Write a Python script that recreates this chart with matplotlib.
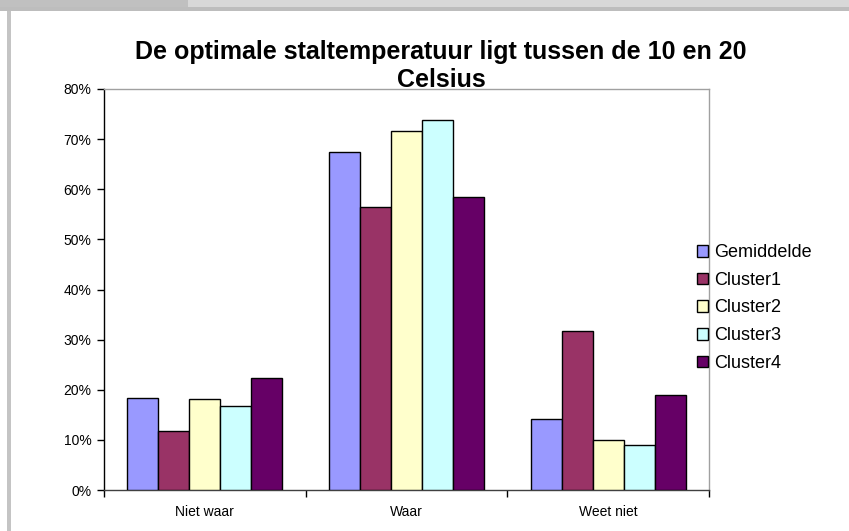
import numpy as np
import matplotlib
matplotlib.use('Agg')
import matplotlib.pyplot as plt
from matplotlib.patches import Rectangle
from matplotlib.ticker import PercentFormatter, FixedLocator

categories = ['Niet waar', 'Waar', 'Weet niet']
series = ['Gemiddelde', 'Cluster1', 'Cluster2', 'Cluster3', 'Cluster4']
gemiddelde = [18.3, 67.5, 14.2]
cluster1 = [11.8, 56.5, 31.7]
cluster2 = [18.1, 71.7, 9.9]
cluster3 = [16.8, 73.9, 9.0]
cluster4 = [22.3, 58.4, 19.0]
colors = ['#9999FF', '#993366', '#FFFFCC', '#CCFFFF', '#660066']

plt.rcParams['font.family'] = ['Liberation Sans', 'DejaVu Sans']

fig = plt.figure(figsize=(8.49, 5.31), dpi=100)

# window chrome around the chart
fig.patches.append(Rectangle((0, 1 - 7 / 531), 1, 7 / 531, transform=fig.transFigure,
                             facecolor='#d8d8d8', edgecolor='none', zorder=0))
fig.patches.append(Rectangle((0, 1 - 7 / 531), 188 / 849, 7 / 531, transform=fig.transFigure,
                             facecolor='#c0c0c0', edgecolor='none', zorder=0))
fig.patches.append(Rectangle((0, 1 - 11 / 531), 1, 4 / 531, transform=fig.transFigure,
                             facecolor='#bdbdbd', edgecolor='none', zorder=0))
fig.patches.append(Rectangle((7 / 849, 0), 4 / 849, 1 - 11 / 531, transform=fig.transFigure,
                             facecolor='#c4c4c4', edgecolor='none', zorder=0))

ax = fig.add_axes([104 / 849, 41 / 531, 605 / 849, 401 / 531])

values = [gemiddelde, cluster1, cluster2, cluster3, cluster4]
x = np.arange(len(categories))
w = 0.154
handles = []
for j, (name, vals, c) in enumerate(zip(series, values, colors)):
    b = ax.bar(x + (j - 2) * w, vals, width=w, color=c, edgecolor='black',
               linewidth=1.0, label=name, zorder=3)
    handles.append(b)

ax.set_xlim(-0.5, 2.5)
ax.set_ylim(0, 80)
ax.yaxis.set_major_locator(FixedLocator(np.arange(0, 81, 10)))
ax.yaxis.set_major_formatter(PercentFormatter(decimals=0))
ax.set_xticks(x)
ax.set_xticklabels(categories, fontsize=10)
ax.tick_params(axis='x', length=0, pad=11)
ax.xaxis.set_minor_locator(FixedLocator([-0.5, 0.5, 1.5, 2.5]))
ax.tick_params(axis='x', which='minor', length=5, direction='out', width=1, color='black')
ax.tick_params(axis='y', length=5, direction='out', width=1, labelsize=10, pad=4)

ax.spines['left'].set_color('black')
ax.spines['bottom'].set_color('#404040')
ax.spines['top'].set_color('#a0a0a0')
ax.spines['right'].set_color('#a0a0a0')
for s in ax.spines.values():
    s.set_linewidth(1.0)

fig.text(441 / 849, 1 - 66 / 531, 'De optimale staltemperatuur ligt tussen de 10 en 20\nCelsius',
         ha='center', va='center', fontsize=18, fontweight='bold', linespacing=1.25)

fig.legend(handles=handles, labels=series, loc='center left',
           bbox_to_anchor=(690 / 849, 1 - 308 / 531), frameon=False, fontsize=13,
           handlelength=0.61, handleheight=0.61, handletextpad=0.3, labelspacing=0.59,
           borderaxespad=0)

fig.savefig('out.png', dpi=100)
